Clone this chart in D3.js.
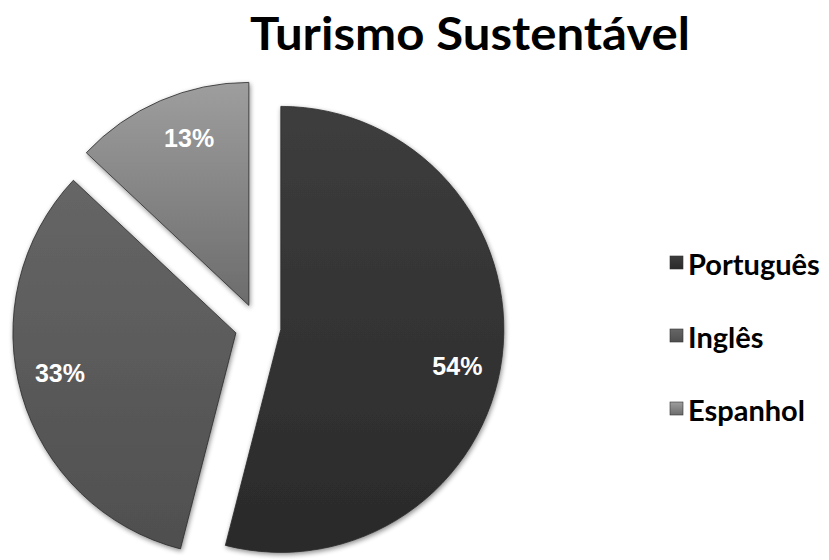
<!DOCTYPE html>
<html>
<head>
<meta charset="utf-8">
<script src="https://cdn.jsdelivr.net/npm/d3@7"></script>
<style>
  html, body { margin: 0; padding: 0; background: #fff; }
  svg { display: block; }
</style>
</head>
<body>
<svg id="chart" width="829" height="560"></svg>
<script>
// Chart data
const categories = ["Português", "Inglês", "Espanhol"];
const values = [54, 33, 13];
const valueLabels = ["54%", "33%", "13%"];
const chartTitle = "Turismo Sustentável";

// Shading per slice (top → bottom of each gradient)
const topColors = ["#3d3d3d", "#666666", "#9e9e9e"];
const bottomColors = ["#2a2a2a", "#4f4f4f", "#6c6c6c"];

const W = 829, H = 560;
const cx = 258, cy = 326.5;   // pie centre
const R = 223;                // radius
const explode = 23;           // offset of each slice from the centre

const svg = d3.select("#chart");
const defs = svg.append("defs");

// soft shadow around slices
const f = defs.append("filter").attr("id", "shadow")
  .attr("x", "-10%").attr("y", "-10%").attr("width", "120%").attr("height", "120%");
f.append("feGaussianBlur").attr("in", "SourceAlpha").attr("stdDeviation", 2.5).attr("result", "b");
f.append("feOffset").attr("in", "b").attr("dx", 1).attr("dy", 2).attr("result", "o");
f.append("feComponentTransfer").attr("in", "o").attr("result", "s")
  .append("feFuncA").attr("type", "linear").attr("slope", 0.45);
const m = f.append("feMerge");
m.append("feMergeNode").attr("in", "s");
m.append("feMergeNode").attr("in", "SourceGraphic");

categories.forEach((c, i) => {
  const g = defs.append("linearGradient").attr("id", "grad" + i)
    .attr("x1", 0).attr("y1", 0).attr("x2", 0).attr("y2", 1);
  g.append("stop").attr("offset", "0%").attr("stop-color", topColors[i]);
  g.append("stop").attr("offset", "100%").attr("stop-color", bottomColors[i]);
});

const pie = d3.pie().sort(null).value(d => d);
const arcs = pie(values);
const arc = d3.arc().innerRadius(0).outerRadius(R);

const pieG = svg.append("g").attr("transform", `translate(${cx},${cy})`);

const slices = pieG.selectAll("g.slice").data(arcs).join("g")
  .attr("class", "slice")
  .attr("transform", d => {
    const a = (d.startAngle + d.endAngle) / 2;
    return `translate(${explode * Math.sin(a)},${-explode * Math.cos(a)})`;
  });

slices.append("path")
  .attr("d", arc)
  .attr("fill", (d, i) => `url(#grad${i})`)
  .attr("stroke", "#2b2b2b")
  .attr("stroke-width", 0.8)
  .attr("filter", "url(#shadow)");

// value labels, placed near the outer end of each slice
const labelR = 180, labelTurn = 0.07;
slices.append("text")
  .attr("x", d => labelR * Math.sin((d.startAngle + d.endAngle) / 2 + labelTurn))
  .attr("y", d => -labelR * Math.cos((d.startAngle + d.endAngle) / 2 + labelTurn) + 2)
  .attr("text-anchor", "middle")
  .attr("dominant-baseline", "central")
  .attr("fill", "#ffffff")
  .attr("font-family", "'Liberation Sans', Arial, sans-serif")
  .attr("font-weight", "bold")
  .attr("font-size", 25)
  .text((d, i) => valueLabels[i]);

// Title
svg.append("text")
  .attr("x", 470).attr("y", 50)
  .attr("text-anchor", "middle")
  .attr("font-family", "Lato, 'Open Sans', sans-serif")
  .attr("font-weight", "bold")
  .attr("font-size", 45)
  .attr("textLength", 440)
  .attr("lengthAdjust", "spacingAndGlyphs")
  .attr("fill", "#000")
  .text(chartTitle);

// Legend
const legend = svg.append("g").attr("transform", "translate(670,262)");
const rows = legend.selectAll("g").data(categories).join("g")
  .attr("transform", (d, i) => `translate(0,${i * 73})`);
rows.append("rect")
  .attr("x", 0).attr("y", -6).attr("width", 13).attr("height", 13)
  .attr("fill", (d, i) => `url(#grad${i})`)
  .attr("stroke", "#333").attr("stroke-width", 0.6);
rows.append("text")
  .attr("x", 18).attr("y", 1)
  .attr("dominant-baseline", "central")
  .attr("font-family", "Lato, 'Open Sans', sans-serif")
  .attr("font-weight", "bold")
  .attr("font-size", 29)
  .attr("fill", "#000")
  .text(d => d);
</script>
</body>
</html>
